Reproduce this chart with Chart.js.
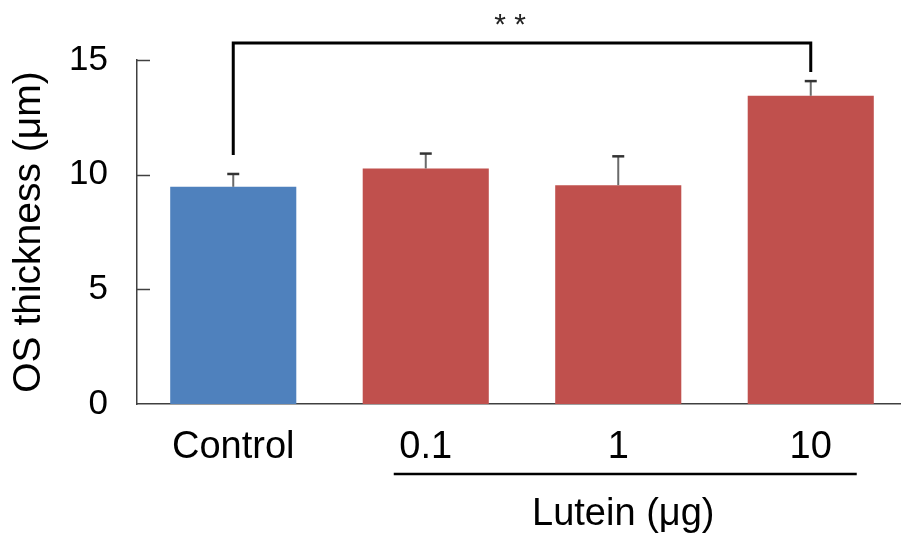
<!DOCTYPE html>
<html>
<head>
<meta charset="utf-8">
<script src="https://cdn.jsdelivr.net/npm/chart.js@4"></script>
<style>
  html, body { margin: 0; padding: 0; background: #fff; overflow: hidden; }
  canvas { display: block; }
</style>
</head>
<body>
<canvas id="osChart" width="907" height="535"></canvas>
<script>
// values
const groups = ['Control', '0.1', '1', '10'];
const thickness = [9.47, 10.27, 9.54, 13.44];
const sem = [0.56, 0.65, 1.26, 0.64];
const barColors = ['#4F81BD', '#C0504D', '#C0504D', '#C0504D'];
const yTicks = [0, 5, 10, 15];
const sigPair = [0, 3];
const sigLabel = '* *';
const doseLabel = 'Lutein (\u03bcg)';

Chart.defaults.font.family = '"Liberation Sans", Arial, sans-serif';
Chart.defaults.color = '#000';

// error bars, inner y ticks, significance bracket and the dose group label
const extras = {
  id: 'extras',
  afterDatasetsDraw(chart) {
    const ctx = chart.ctx;
    const x = chart.scales.x, y = chart.scales.y;
    const bars = chart.getDatasetMeta(0).data;
    ctx.save();

    // inner ticks on the y axis
    ctx.strokeStyle = '#404040';
    ctx.lineWidth = 1.5;
    yTicks.forEach(v => {
      if (v === 0) return;
      const py = Math.round(y.getPixelForValue(v)) + 0.5;
      ctx.beginPath();
      ctx.moveTo(chart.chartArea.left, py);
      ctx.lineTo(chart.chartArea.left + 13, py);
      ctx.stroke();
    });

    // error bars (upper only)
    bars.forEach((bar, i) => {
      const top = y.getPixelForValue(thickness[i] + sem[i]);
      ctx.strokeStyle = '#6a6a6a';
      ctx.lineWidth = 2;
      ctx.beginPath();
      ctx.moveTo(bar.x, bar.y);
      ctx.lineTo(bar.x, top);
      ctx.stroke();
      ctx.strokeStyle = '#333';
      ctx.lineWidth = 2.5;
      ctx.beginPath();
      ctx.moveTo(bar.x - 6, top);
      ctx.lineTo(bar.x + 6, top);
      ctx.stroke();
    });

    // significance bracket
    const a = sigPair[0], b = sigPair[1];
    const xa = x.getPixelForValue(a), xb = x.getPixelForValue(b);
    const level = chart.chartArea.top - 17;
    const ya = y.getPixelForValue(thickness[a] + sem[a]) - 19;
    const yb = y.getPixelForValue(thickness[b] + sem[b]) - 9;
    ctx.strokeStyle = '#000';
    ctx.lineWidth = 3;
    ctx.lineJoin = 'miter';
    ctx.beginPath();
    ctx.moveTo(xa, ya);
    ctx.lineTo(xa, level);
    ctx.lineTo(xb, level);
    ctx.lineTo(xb, yb);
    ctx.stroke();
    ctx.fillStyle = '#222';
    ctx.font = '30px "Liberation Sans", Arial, sans-serif';
    ctx.textAlign = 'center';
    ctx.textBaseline = 'alphabetic';
    ctx.fillText(sigLabel, (xa + xb) / 2 - 12, 34);

    // underline for the lutein doses and its label
    const x1 = x.getPixelForValue(1), x3 = x.getPixelForValue(3);
    ctx.strokeStyle = '#000';
    ctx.lineWidth = 2.5;
    ctx.beginPath();
    ctx.moveTo(x1 - 32, 474);
    ctx.lineTo(x3 + 46, 474);
    ctx.stroke();
    ctx.fillStyle = '#000';
    ctx.font = '38px "Liberation Sans", Arial, sans-serif';
    ctx.fillText(doseLabel, (x1 + x3) / 2 + 5, 525);

    ctx.restore();
  }
};

new Chart(document.getElementById('osChart').getContext('2d'), {
  type: 'bar',
  data: {
    labels: groups,
    datasets: [{
      data: thickness,
      backgroundColor: barColors,
      borderWidth: 0,
      barPercentage: 0.655,
      categoryPercentage: 1.0
    }]
  },
  options: {
    responsive: false,
    animation: false,
    events: [],
    layout: { padding: { top: 60, right: 0, bottom: 0, left: 0 } },
    plugins: {
      legend: { display: false },
      tooltip: { enabled: false }
    },
    scales: {
      x: {
        grid: { display: false, drawTicks: false },
        border: { display: true, color: '#404040', width: 1.5 },
        ticks: { font: { size: 38 }, color: '#000', padding: 21 },
        afterFit(scale) { scale.height = 131; }
      },
      y: {
        min: 0,
        max: 15,
        grid: { display: false, drawTicks: false },
        border: { display: true, color: '#404040', width: 1.5 },
        ticks: { stepSize: 5, font: { size: 35 }, color: '#000', padding: 29 },
        title: {
          display: true,
          text: 'OS thickness (\u03bcm)',
          font: { size: 39 },
          color: '#000',
          padding: { top: 6, bottom: 0 }
        },
        afterFit(scale) { scale.width = 137; }
      }
    }
  },
  plugins: [extras]
});
</script>
</body>
</html>
